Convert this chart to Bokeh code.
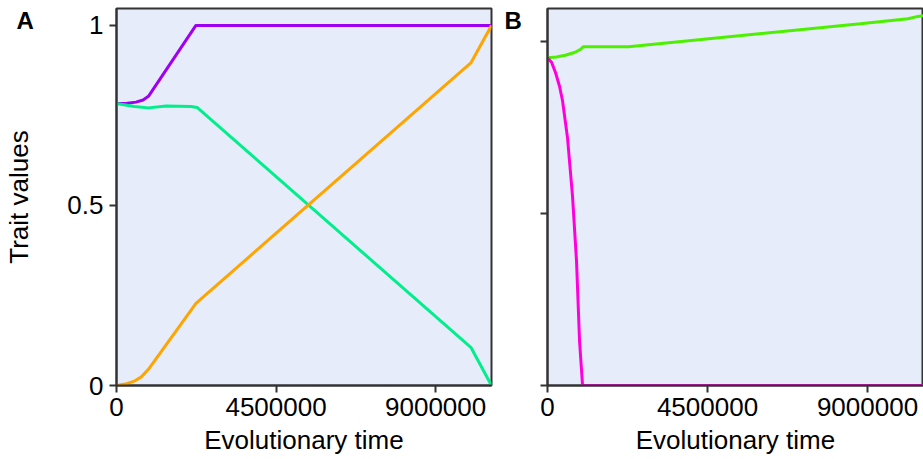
from bokeh.plotting import figure
from bokeh.layouts import row
from bokeh.models import Range1d, FixedTicker, Label, BasicTickFormatter
from bokeh.embed import file_html
from bokeh.resources import INLINE

# ---------------- data ----------------
# Panel A (time in generations)
a_purple_t = [0, 300000, 550000, 750000, 900000, 2240000, 10575000]
a_purple_y = [0.783, 0.784, 0.787, 0.793, 0.803, 1.0, 1.0]

a_teal_t = [0, 500000, 900000, 1400000, 2100000, 2280000, 10000000, 10575000]
a_teal_y = [0.783, 0.775, 0.771, 0.776, 0.775, 0.772, 0.105, 0.0]

a_orange_t = [0, 250000, 500000, 700000, 900000, 2240000, 10000000, 10575000]
a_orange_y = [0.0, 0.004, 0.012, 0.024, 0.045, 0.228, 0.897, 1.0]

# Panel B
b_green_t = [0, 250000, 500000, 760000, 930000, 1010000, 2280000, 8800000,
             10140000, 10420000, 10575000]
b_green_y = [0.953, 0.955, 0.96, 0.968, 0.977, 0.985, 0.985, 1.052,
             1.066, 1.073, 1.075]

b_magenta_t = [0, 113000, 225000, 338000, 423000, 563000, 704000, 817000,
               901000, 986000, 10575000]
b_magenta_y = [0.953, 0.94, 0.91, 0.87, 0.828, 0.72, 0.55, 0.36,
               0.13, 0.0, 0.0]

x_ticks = [0, 4500000, 9000000]
y_ticks = [0, 0.5, 1]
y_tick_labels = ["0", "0.5", "1"]
panel_labels = ["A", "B"]

FONT = "Liberation Sans"
FS = "26px"
BG = "#E6ECFA"
AX = "#333333"


def style(p):
    p.background_fill_color = BG
    p.border_fill_color = "white"
    p.outline_line_color = AX
    p.outline_line_width = 2
    p.grid.visible = False
    for ax in (p.xaxis[0], p.yaxis[0]):
        ax.axis_line_color = AX
        ax.axis_line_width = 2
        ax.major_tick_line_color = AX
        ax.major_tick_line_width = 2
        ax.major_tick_out = 7
        ax.major_tick_in = 0
        ax.minor_tick_line_color = None
        ax.major_label_text_font = FONT
        ax.major_label_text_font_size = FS
        ax.major_label_text_color = "black"
        ax.axis_label_text_font = FONT
        ax.axis_label_text_font_size = FS
        ax.axis_label_text_font_style = "normal"
        ax.axis_label_text_color = "black"
    p.xaxis.ticker = FixedTicker(ticks=x_ticks)
    p.xaxis.formatter = BasicTickFormatter(use_scientific=False)
    p.xaxis.major_label_standoff = 5
    p.xaxis.axis_label = "Evolutionary time"
    p.xaxis.axis_label_standoff = 6
    p.yaxis.ticker = FixedTicker(ticks=y_ticks)


def panel_label(text, x):
    return Label(x=x, y=379, x_units="screen", y_units="screen", text=text,
                 text_baseline="top", text_font=FONT, text_font_size="24px",
                 text_font_style="bold", text_color="black")


pa = figure(width=531, height=459, output_backend="svg",
            toolbar_location=None, x_range=Range1d(0, 10575000),
            y_range=Range1d(0, 1.047), min_border_left=116, min_border_right=40,
            min_border_top=8, min_border_bottom=74)
style(pa)
pa.yaxis.major_label_overrides = {t: l for t, l in zip(y_ticks, y_tick_labels)}
pa.yaxis.major_label_standoff = 6
pa.yaxis.axis_label = "Trait values"
pa.yaxis.axis_label_standoff = 30

pa.line(a_purple_t, a_purple_y, line_color="#A000F2", line_width=3)
pa.line(a_teal_t, a_teal_y, line_color="#00EE8C", line_width=3)
pa.line(a_orange_t, a_orange_y, line_color="#FFA500", line_width=3)

# panel letters live in the right border of the first canvas (not clipped there)
pa.add_layout(panel_label(panel_labels[0], -475), "right")
pa.add_layout(panel_label(panel_labels[1], -4), "right")

pb = figure(width=392, height=459, output_backend="svg",
            toolbar_location=None, x_range=Range1d(0, 10575000),
            y_range=Range1d(0, 1.096), min_border_left=16, min_border_right=0,
            min_border_top=8, min_border_bottom=74)
style(pb)
pb.yaxis.major_label_text_font_size = "0px"
pb.yaxis.major_label_standoff = 0

pb.line(b_green_t, b_green_y, line_color="#4CF000", line_width=3)
pb.line(b_magenta_t, b_magenta_y, line_color="#FF00DC", line_width=3)

layout = row(pa, pb)
open("out.html", "w").write(file_html(layout, INLINE))
